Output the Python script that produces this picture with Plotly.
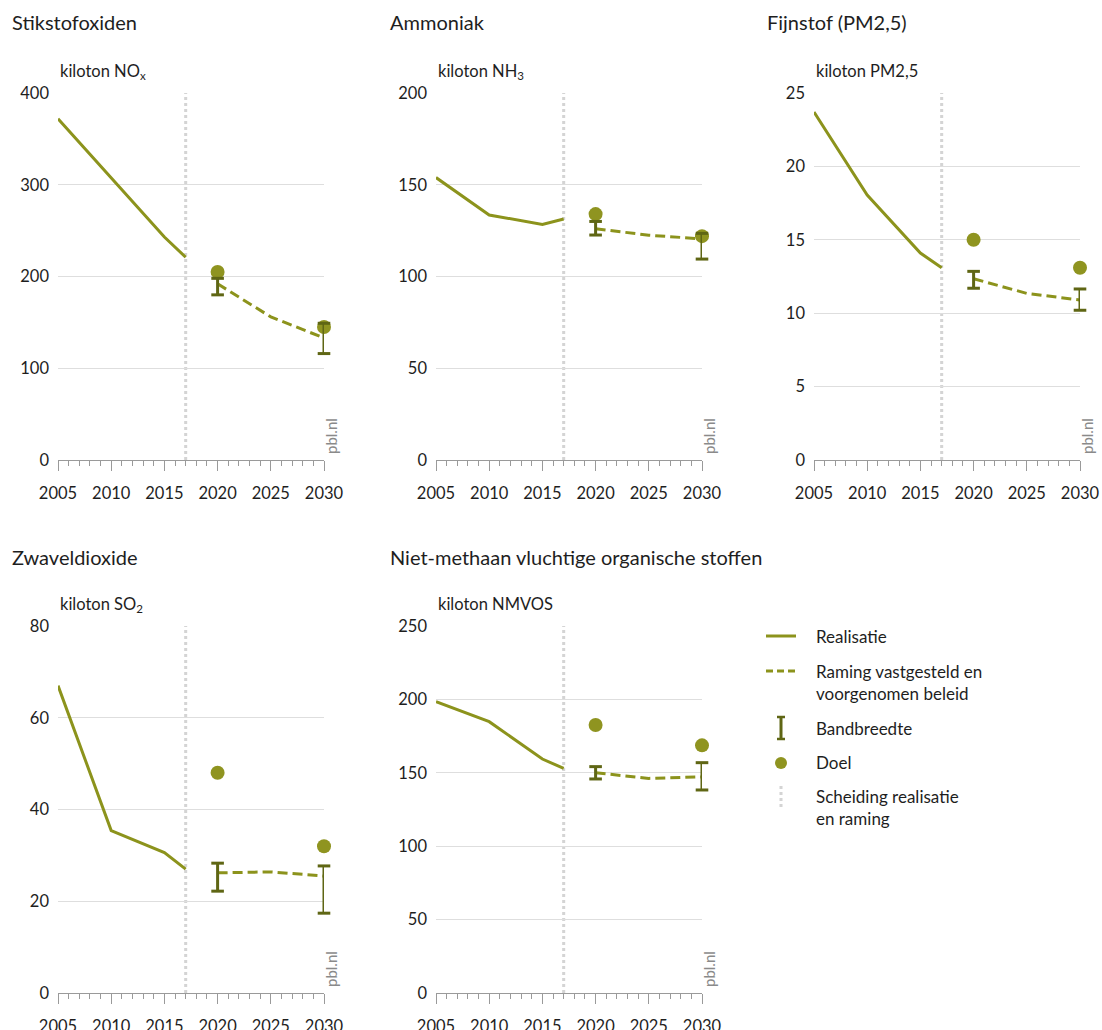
import plotly.graph_objects as go

# ---- data -------------------------------------------------------------
real_years = [2005, 2010, 2015, 2017]
proj_years = [2020, 2025, 2030]
target_years = [2020, 2030]

nox_real = [372, 308, 243, 221]
nox_proj = [192, 156, 133]
nox_low = [180, 116]
nox_high = [198, 149]
nox_goal = [205, 145]

nh3_real = [153.9, 133.5, 128.4, 131.3]
nh3_proj = [126, 122.5, 120.5]
nh3_low = [122.6, 109.5]
nh3_high = [130, 123.5]
nh3_goal = [134, 122]

pm_real = [23.7, 18.05, 14.1, 13.1]
pm_proj = [12.35, 11.35, 10.9]
pm_low = [11.7, 10.2]
pm_high = [12.85, 11.65]
pm_goal = [15, 13.1]

so2_real = [67, 35.4, 30.6, 27]
so2_proj = [26.2, 26.4, 25.5]
so2_low = [22.2, 17.4]
so2_high = [28.3, 27.7]
so2_goal = [48, 32]

nmvos_real = [198.4, 184.8, 159.4, 153]
nmvos_proj = [150, 146.2, 147.2]
nmvos_low = [145.8, 138.3]
nmvos_high = [154.2, 156.9]
nmvos_goal = [182.6, 168.7]

split_year = 2017
x_ticks = [2005, 2010, 2015, 2020, 2025, 2030]

panels = [
    dict(title="Stikstofoxiden", unit="kiloton NO<sub>x</sub>", ymax=400, dtick=100,
         real=nox_real, proj=nox_proj, low=nox_low, high=nox_high, goal=nox_goal),
    dict(title="Ammoniak", unit="kiloton NH<sub>3</sub>", ymax=200, dtick=50,
         real=nh3_real, proj=nh3_proj, low=nh3_low, high=nh3_high, goal=nh3_goal),
    dict(title="Fijnstof (PM2,5)", unit="kiloton PM2,5", ymax=25, dtick=5,
         real=pm_real, proj=pm_proj, low=pm_low, high=pm_high, goal=pm_goal),
    dict(title="Zwaveldioxide", unit="kiloton SO<sub>2</sub>", ymax=80, dtick=20,
         real=so2_real, proj=so2_proj, low=so2_low, high=so2_high, goal=so2_goal),
    dict(title="Niet-methaan vluchtige organische stoffen", unit="kiloton NMVOS", ymax=250, dtick=50,
         real=nmvos_real, proj=nmvos_proj, low=nmvos_low, high=nmvos_high, goal=nmvos_goal),
]

# ---- styling ----------------------------------------------------------
W, H = 1102, 1030
FONT = "Lato"
TXT = "#1e1e1e"
OLIVE = "#8c931c"
DARK_OLIVE = "#5f6614"
GOAL = "#8f9420"
GRID = "#dedede"
AXIS = "#9a9a9a"
SPLIT = "#d4d4d4"


def px(x):
    return x / W


def py(y):
    return 1 - y / H


# plot-area pixel boxes (left, right, top, bottom)
boxes = [
    (58, 324, 93, 460),
    (436, 702, 93, 460),
    (814, 1080, 93, 460),
    (58, 324, 626, 993),
    (436, 702, 626, 993),
]
title_pos = [(10, 22), (388, 22), (765, 22), (10, 557), (388, 557)]

fig = go.Figure()
layout = dict(
    width=W, height=H,
    margin=dict(l=0, r=0, t=0, b=0, autoexpand=False),
    paper_bgcolor="white", plot_bgcolor="white",
    showlegend=False,
    font=dict(family=FONT, color=TXT, size=15),
)
annotations = []
shapes = []

for i, (p, box) in enumerate(zip(panels, boxes)):
    n = i + 1
    xa = "x" if n == 1 else f"x{n}"
    ya = "y" if n == 1 else f"y{n}"
    l, r, t, b = box

    layout[f"xaxis{n}" if n > 1 else "xaxis"] = dict(
        domain=[px(l), px(r)], anchor=ya, range=[2005, 2030], automargin=False,
        tickmode="array", tickvals=x_ticks, ticks="outside", ticklen=10,
        tickcolor=AXIS, tickwidth=1, showline=True, linecolor=AXIS, linewidth=1,
        showgrid=False, zeroline=False, ticklabelstandoff=8,
        tickfont=dict(size=16.5, color=TXT),
        minor=dict(tick0=2005, dtick=1, ticks="outside", ticklen=5,
                   tickcolor=AXIS, tickwidth=1, showgrid=False),
        fixedrange=True,
    )
    layout[f"yaxis{n}" if n > 1 else "yaxis"] = dict(
        domain=[py(b), py(t)], anchor=xa, range=[0, p["ymax"]], automargin=False,
        tick0=0, dtick=p["dtick"], showgrid=True, gridcolor=GRID, gridwidth=1,
        zeroline=False, showline=False, ticks="", ticklabelstandoff=8,
        tickfont=dict(size=16.5, color=TXT), fixedrange=True,
    )

    # realisatie
    fig.add_trace(go.Scatter(
        x=real_years, y=p["real"], mode="lines", xaxis=xa, yaxis=ya,
        line=dict(color=OLIVE, width=3), cliponaxis=False, name="Realisatie"))
    # raming
    fig.add_trace(go.Scatter(
        x=proj_years, y=p["proj"], mode="lines", xaxis=xa, yaxis=ya,
        line=dict(color=OLIVE, width=3, dash="10px,5px"), cliponaxis=False,
        name="Raming vastgesteld en voorgenomen beleid"))
    # doel
    fig.add_trace(go.Scatter(
        x=target_years, y=p["goal"], mode="markers", xaxis=xa, yaxis=ya,
        marker=dict(color=GOAL, size=14), cliponaxis=False, name="Doel"))
    # bandbreedte: vertical stems plus end caps
    stem_x, stem_y, cap_x, cap_y = [], [], [], []
    for yr, lo, hi in zip(target_years, p["low"], p["high"]):
        stem_x += [yr, yr, None]
        stem_y += [lo, hi, None]
        cap_x += [yr, yr]
        cap_y += [lo, hi]
    fig.add_trace(go.Scatter(
        x=stem_x, y=stem_y, mode="lines", xaxis=xa, yaxis=ya,
        line=dict(color=DARK_OLIVE, width=3), cliponaxis=False, name="Bandbreedte"))
    fig.add_trace(go.Scatter(
        x=cap_x, y=cap_y, mode="markers", xaxis=xa, yaxis=ya, cliponaxis=False,
        marker=dict(symbol="line-ew", size=9, line=dict(color=DARK_OLIVE, width=3)),
        name="Bandbreedte"))

    # separator between realisation and projection
    shapes.append(dict(type="line", xref=xa, yref=f"{ya} domain",
                       x0=split_year, x1=split_year, y0=0, y1=1,
                       line=dict(color=SPLIT, width=3, dash="dot"), layer="below"))

    # titles
    tx, ty = title_pos[i]
    annotations.append(dict(text=p["title"], x=px(tx), y=py(ty), xref="paper", yref="paper",
                            xanchor="left", yanchor="middle", showarrow=False,
                            font=dict(size=20, color=TXT)))
    annotations.append(dict(text=p["unit"], x=px(l), y=py(t - 22), xref="paper", yref="paper",
                            xanchor="left", yanchor="middle", showarrow=False,
                            font=dict(size=16.5, color=TXT)))
    annotations.append(dict(text="pbl.nl", x=px(r + 7), y=py(b - 4), xref="paper", yref="paper",
                            xanchor="center", yanchor="bottom", textangle=-90, showarrow=False,
                            font=dict(size=15, color="#8a8a8a")))

# ---- legend -----------------------------------------------------------
LX0, LX1, LTX = 766, 796, 814
shapes.append(dict(type="line", xref="paper", yref="paper", x0=px(LX0), x1=px(LX1),
                   y0=py(636), y1=py(636), line=dict(color=OLIVE, width=3)))
shapes.append(dict(type="line", xref="paper", yref="paper", x0=px(LX0), x1=px(LX1),
                   y0=py(671), y1=py(671), line=dict(color=OLIVE, width=3, dash="7px,4px")))
# bandbreedte symbol
cx = 781
shapes.append(dict(type="line", xref="paper", yref="paper", x0=px(cx), x1=px(cx),
                   y0=py(717), y1=py(739), line=dict(color=DARK_OLIVE, width=3)))
for yy in (717, 739):
    shapes.append(dict(type="line", xref="paper", yref="paper", x0=px(cx - 4), x1=px(cx + 4),
                       y0=py(yy), y1=py(yy), line=dict(color=DARK_OLIVE, width=2.5)))
# doel symbol
shapes.append(dict(type="circle", xref="paper", yref="paper", x0=px(cx - 6), x1=px(cx + 6),
                   y0=py(769), y1=py(757), fillcolor=GOAL, line=dict(width=0)))
# scheiding symbol
shapes.append(dict(type="line", xref="paper", yref="paper", x0=px(cx), x1=px(cx),
                   y0=py(786), y1=py(808), line=dict(color=SPLIT, width=3, dash="dot")))

legend_text = [
    ("Realisatie", 636),
    ("Raming vastgesteld en<br>voorgenomen beleid", 682),
    ("Bandbreedte", 728),
    ("Doel", 762),
    ("Scheiding realisatie<br>en raming", 807),
]
for txt, yy in legend_text:
    annotations.append(dict(text=txt, x=px(LTX), y=py(yy), xref="paper", yref="paper",
                            xanchor="left", yanchor="middle", align="left", showarrow=False,
                            font=dict(size=17, color=TXT)))

layout["annotations"] = annotations
layout["shapes"] = shapes
fig.update_layout(**layout)

fig.write_html("out.html")
